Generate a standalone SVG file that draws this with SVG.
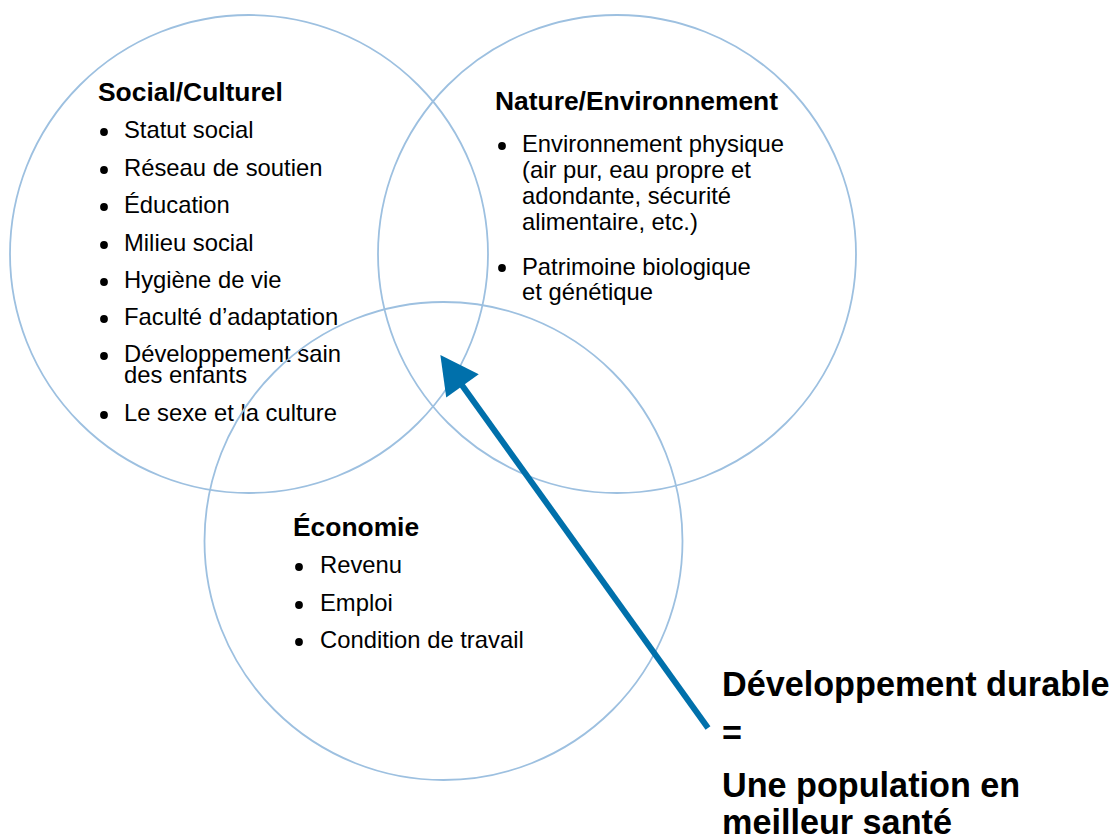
<svg xmlns="http://www.w3.org/2000/svg" width="1117" height="839" viewBox="0 0 1117 839">
<style>
.c{fill:none;stroke:#9dc0e0;stroke-width:1.8}
.t{font-family:"Liberation Sans",Arial,sans-serif;font-weight:bold;font-size:26.4px;fill:#000}
.l{font-family:"Liberation Sans",Arial,sans-serif;font-size:23.8px;fill:#000}
.b{fill:#000}
.big{font-family:"Liberation Sans",Arial,sans-serif;font-weight:bold;font-size:34.2px;fill:#000}
.arrow{stroke:#0070ab;stroke-width:6;fill:none}
</style>
<defs>
<marker id="ah" markerUnits="userSpaceOnUse" markerWidth="40" markerHeight="40" viewBox="0 0 37 39" refX="5" refY="19.5" orient="auto">
<path d="M0,0 L37,19.5 L0,39 z" fill="#0070ab"/>
</marker>
</defs>
<rect width="1117" height="839" fill="#fff"/>
<g id="social">
<circle class="c" cx="249" cy="254" r="239"/>
<text class="t" x="98" y="101">Social/Culturel</text>
<g class="b">
<circle cx="104" cy="132" r="3.9"/><circle cx="104" cy="170" r="3.9"/><circle cx="104" cy="207" r="3.9"/><circle cx="104" cy="245" r="3.9"/><circle cx="104" cy="282" r="3.9"/><circle cx="104" cy="319" r="3.9"/><circle cx="104" cy="356" r="3.9"/><circle cx="104" cy="415" r="3.9"/>
</g>
<text class="l" x="124" y="138">Statut social</text>
<text class="l" x="124" y="176">Réseau de soutien</text>
<text class="l" x="124" y="213">Éducation</text>
<text class="l" x="124" y="251">Milieu social</text>
<text class="l" x="124" y="288">Hygiène de vie</text>
<text class="l" x="124" y="325">Faculté d’adaptation</text>
<text class="l" x="124" y="362">Développement sain</text>
<text class="l" x="124" y="383">des enfants</text>
<text class="l" x="124" y="421">Le sexe et la culture</text>
</g>
<g id="nature">
<circle class="c" cx="617" cy="254" r="239"/>
<text class="t" x="495" y="110">Nature/Environnement</text>
<g class="b"><circle cx="502" cy="146" r="3.9"/><circle cx="502" cy="268" r="3.9"/></g>
<text class="l" x="522" y="152">Environnement physique</text>
<text class="l" x="522" y="178">(air pur, eau propre et</text>
<text class="l" x="522" y="204">adondante, sécurité</text>
<text class="l" x="522" y="230">alimentaire, etc.)</text>
<text class="l" x="522" y="275">Patrimoine biologique</text>
<text class="l" x="522" y="300">et génétique</text>
</g>
<g id="economie">
<circle class="c" cx="443.5" cy="541" r="239"/>
<text class="t" x="293" y="536">Économie</text>
<g class="b"><circle cx="299" cy="567" r="3.9"/><circle cx="299" cy="605" r="3.9"/><circle cx="299" cy="642" r="3.9"/></g>
<text class="l" x="320" y="573">Revenu</text>
<text class="l" x="320" y="611">Emploi</text>
<text class="l" x="320" y="648">Condition de travail</text>
</g>
<g id="conclusion">
<text class="big" x="722" y="696">Développement durable</text>
<text class="big" x="722" y="745">=</text>
<text class="big" x="722" y="797">Une population en</text>
<text class="big" x="722" y="834">meilleur santé</text>
</g>
<g id="connectors">
<line class="arrow" x1="708" y1="728" x2="459.5" y2="381.7" marker-end="url(#ah)"/>
</g>
</svg>
